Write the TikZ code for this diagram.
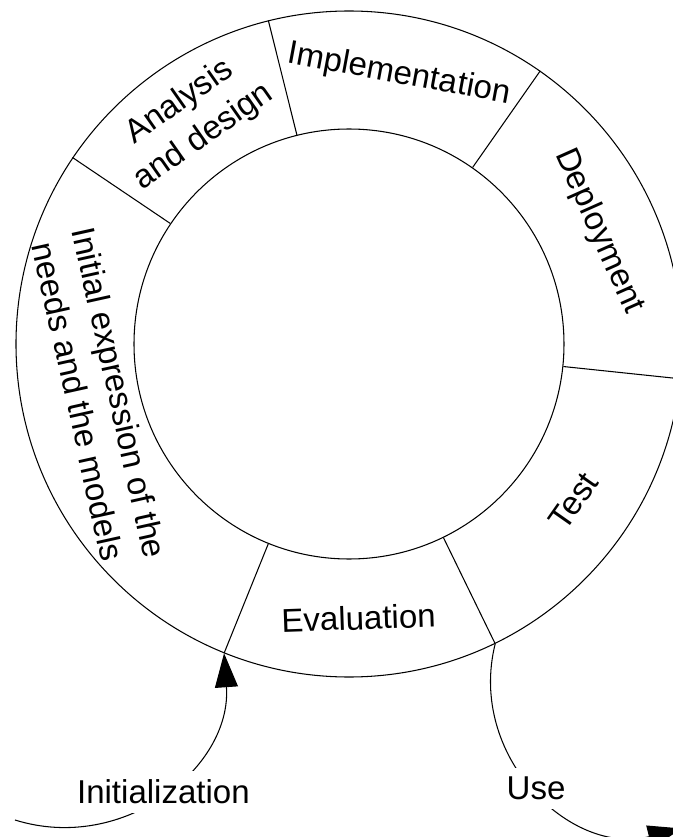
\documentclass[tikz,border=0pt]{standalone}
\usepackage{fontspec}
\setmainfont{Liberation Sans}
\usetikzlibrary{arrows.meta}
\tikzset{>={Triangle[length=3.4mm,width=2.3mm]}}
\tikzset{
  ring/.style={draw, circle, inner sep=0pt},
  phase/.style={font=\fontsize{9.4}{12}\selectfont, align=center, inner sep=0pt},
  flowlbl/.style={font=\fontsize{9.4}{12}\selectfont, fill=white, inner sep=2.5pt}
}

\begin{document}
\begin{tikzpicture}[line width=0.3pt]
            \useasboundingbox (-3.49,-4.93) rectangle (3.24,3.44);

            \node[ring, minimum size=6.66cm] (outer) at (0,0) {};
            \node[ring, minimum size=4.3cm] (inner) at (0,0) {};

            \foreach \a in {55,104,146,248,296,354}
                \draw (inner.\a) -- (outer.\a);

            \node[phase, rotate=-10.5] (impl) at (79.5:2.74) {Implementation};
            \node[phase, rotate=35] (analysis) at (125:2.74) {Analysis\\and design};
            \node[phase, rotate=-66] (deploy) at (24.3:2.74) {Deployment};
            \node[phase, rotate=55] (test) at (-35:2.74) {Test};
            \node[phase, rotate=2] (eval) at (-88:2.74) {Evaluation};
            \node[phase, rotate=-77.5] (initexp) at (-2.50,-0.53) {Initial expression of the\\needs and the models};

            \coordinate (initstart) at (-3.34,-4.76);
            \coordinate (useend) at (3.33,-4.845);

            \draw[->] (initstart) .. controls +(1.09,-0.34) and +(0.08,-1.14) .. (outer.248)
                node[flowlbl, midway] (initlbl) {Initialization};
            \draw[->] (outer.296) .. controls +(-0.28,-1.12) and +(-1.12,-0.28) .. (useend)
                node[flowlbl, midway] (uselbl) {Use};
\end{tikzpicture}
\end{document}
